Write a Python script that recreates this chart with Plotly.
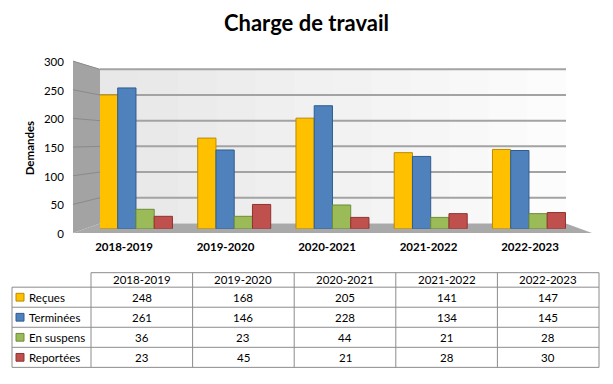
import plotly.graph_objects as go

# ---------------- data ----------------
categories = ["2018-2019", "2019-2020", "2020-2021", "2021-2022", "2022-2023"]
series_names = ["Reçues", "Terminées", "En suspens", "Reportées"]
recues = [248, 168, 205, 141, 147]
terminees = [261, 146, 228, 134, 145]
en_suspens = [36, 23, 44, 21, 28]
reportees = [23, 45, 21, 28, 30]
y_ticks = [0, 50, 100, 150, 200, 250, 300]
title_text = "Charge de travail"
y_title = "Demandes"

series_values = [recues, terminees, en_suspens, reportees]
fill_colors = ["#FFC000", "#4F81BD", "#9BBB59", "#C0504D"]
edge_colors = ["#B98B00", "#2F5C8F", "#6E8C3A", "#8E3330"]

W, H = 613, 384
FONT = "Lato"


def px(x):
    return x / W


def py(y):
    return 1 - y / H


fig = go.Figure()

for name, vals, fc, ec in zip(series_names, series_values, fill_colors, edge_colors):
    fig.add_trace(go.Bar(
        x=categories, y=vals, name=name,
        marker=dict(color=fc, line=dict(color=ec, width=1)),
        xaxis="x", yaxis="y", showlegend=False,
    ))

# invisible trace carrying the front (label) axes
fig.add_trace(go.Scatter(
    x=categories, y=[0] * len(categories), mode="markers",
    marker=dict(opacity=0), xaxis="x2", yaxis="y2",
    hoverinfo="skip", showlegend=False,
))

shapes = []
# ---- 3D walls (decoration) ----
back_l, back_r, back_top, back_bot = 100, 566, 64.5, 224
front_l, front_r, front_top, front_bot = 73, 592, 56, 234

# side wall
shapes.append(dict(type="path", xref="paper", yref="paper", layer="below",
                   path=f"M {px(front_l)} {py(front_top)} L {px(back_l)} {py(back_top)} "
                        f"L {px(back_l)} {py(back_bot)} L {px(front_l)} {py(front_bot)} Z",
                   fillcolor="#A3A3A3", line=dict(width=0)))
# back wall (slight gradient with strips)
n_strips = 12
for i in range(n_strips):
    x0 = back_l + (back_r - back_l) * i / n_strips
    x1 = back_l + (back_r - back_l) * (i + 1) / n_strips + 0.5
    g = int(232 + (252 - 232) * i / (n_strips - 1))
    shapes.append(dict(type="rect", xref="paper", yref="paper", layer="below",
                       x0=px(x0), x1=px(min(x1, back_r)), y0=py(back_bot), y1=py(back_top),
                       fillcolor=f"rgb({g},{g},{g})", line=dict(width=0)))
# floor
shapes.append(dict(type="path", xref="paper", yref="paper", layer="below",
                   path=f"M {px(back_l)} {py(back_bot)} L {px(back_r)} {py(back_bot)} "
                        f"L {px(front_r)} {py(front_bot)} L {px(front_l)} {py(front_bot)} Z",
                   fillcolor="#A9A9A9", line=dict(width=0)))

# gridlines on back and side walls, from tick values
span = max(y_ticks)
for v in y_ticks[1:]:
    yb = back_bot - (back_bot - back_top) * v / span
    yf = front_bot - (front_bot - front_top) * v / span
    shapes.append(dict(type="line", xref="paper", yref="paper", layer="below",
                       x0=px(back_l), x1=px(back_r), y0=py(yb), y1=py(yb),
                       line=dict(color="#A3A3A3", width=2)))
    shapes.append(dict(type="line", xref="paper", yref="paper", layer="below",
                       x0=px(front_l), x1=px(back_l), y0=py(yf), y1=py(yb),
                       line=dict(color="#8A8A8A", width=1)))

# ---- data table ----
tbl_left = 12
col_first = 91
col_w = (599 - 91) / len(categories)
head_top, head_bot = 275, 290
row_h = 20.75
tbl_bot = head_bot + row_h * len(series_names)
line_c = "#8C8C8C"
col_edges = [col_first + col_w * i for i in range(len(categories) + 1)]
tbl_right = col_edges[-1]

def hline(x0, x1, y):
    shapes.append(dict(type="line", xref="paper", yref="paper",
                       x0=px(x0), x1=px(x1), y0=py(y), y1=py(y),
                       line=dict(color=line_c, width=1)))

def vline(x, y0, y1):
    shapes.append(dict(type="line", xref="paper", yref="paper",
                       x0=px(x), x1=px(x), y0=py(y0), y1=py(y1),
                       line=dict(color=line_c, width=1)))

hline(col_first, tbl_right, head_top)
for r in range(len(series_names) + 1):
    hline(tbl_left, tbl_right, head_bot + row_h * r)
vline(tbl_left, head_bot, tbl_bot)
for x in col_edges:
    vline(x, head_top, tbl_bot)

annotations = []
tfont = dict(family=FONT, size=11.5, color="#000000")
for j, cat in enumerate(categories):
    annotations.append(dict(text=cat, xref="paper", yref="paper", showarrow=False,
                            x=px(col_edges[j] + col_w / 2), y=py((head_top + head_bot) / 2),
                            xanchor="center", yanchor="middle", font=tfont))
for r, (name, vals, fc, ec) in enumerate(zip(series_names, series_values, fill_colors, edge_colors)):
    yc = head_bot + row_h * (r + 0.5)
    shapes.append(dict(type="rect", xref="paper", yref="paper",
                       x0=px(16), x1=px(24), y0=py(yc - 4), y1=py(yc + 4),
                       fillcolor=fc, line=dict(color=ec, width=1)))
    annotations.append(dict(text=name, xref="paper", yref="paper", showarrow=False,
                            x=px(27), y=py(yc), xanchor="left", yanchor="middle", font=tfont))
    for j, v in enumerate(vals):
        annotations.append(dict(text=str(v), xref="paper", yref="paper", showarrow=False,
                                x=px(col_edges[j] + col_w / 2), y=py(yc),
                                xanchor="center", yanchor="middle", font=tfont))

fig.update_layout(
    width=W, height=H,
    margin=dict(l=0, r=0, t=0, b=0),
    paper_bgcolor="white", plot_bgcolor="rgba(0,0,0,0)",
    font=dict(family=FONT, color="#000000"),
    title=dict(text=f"<b>{title_text}</b>", x=0.5, xanchor="center",
               y=py(23), yanchor="middle", font=dict(family=FONT, size=22, color="#000000")),
    barmode="group", bargap=0.257, bargroupgap=0,
    xaxis=dict(domain=[px(back_l), px(back_r)], range=[-0.366, 4.377], type="category",
               categoryorder="array", categoryarray=categories,
               showticklabels=False, showgrid=False, zeroline=False, showline=False, anchor="y"),
    yaxis=dict(domain=[py(229.5), py(62)], range=[0, 300], visible=False, anchor="x"),
    xaxis2=dict(domain=[px(73.25), px(580.75)], range=[-0.5, 4.5], type="category",
                categoryorder="array", categoryarray=categories, anchor="y2",
                showgrid=False, zeroline=False, showline=False,
                ticks="outside", ticklen=2, tickcolor="rgba(0,0,0,0)",
                tickfont=dict(family=FONT, size=11.5, color="#000000", weight="bold")),
    yaxis2=dict(domain=[py(235), py(57)], range=[0, 300], anchor="x2",
                tickvals=y_ticks, showgrid=False, zeroline=False, showline=False,
                ticks="outside", ticklen=6, tickcolor="rgba(0,0,0,0)",
                tickfont=dict(family=FONT, size=11.5, color="#000000"),
                title=dict(text=f"<b>{y_title}</b>", standoff=6,
                           font=dict(family=FONT, size=11.5, color="#000000"))),
    shapes=shapes, annotations=annotations,
)

fig.write_html("out.html", config={"displayModeBar": False, "staticPlot": True})

# remove the default page margin so the figure sits at the window origin
with open("out.html", "r", encoding="utf-8") as f:
    html = f.read()
html = html.replace("<body>", '<body style="margin:0;padding:0;">', 1)
html = html.replace("<head>", "<head><style>html,body{margin:0;padding:0;}</style>", 1)
with open("out.html", "w", encoding="utf-8") as f:
    f.write(html)
